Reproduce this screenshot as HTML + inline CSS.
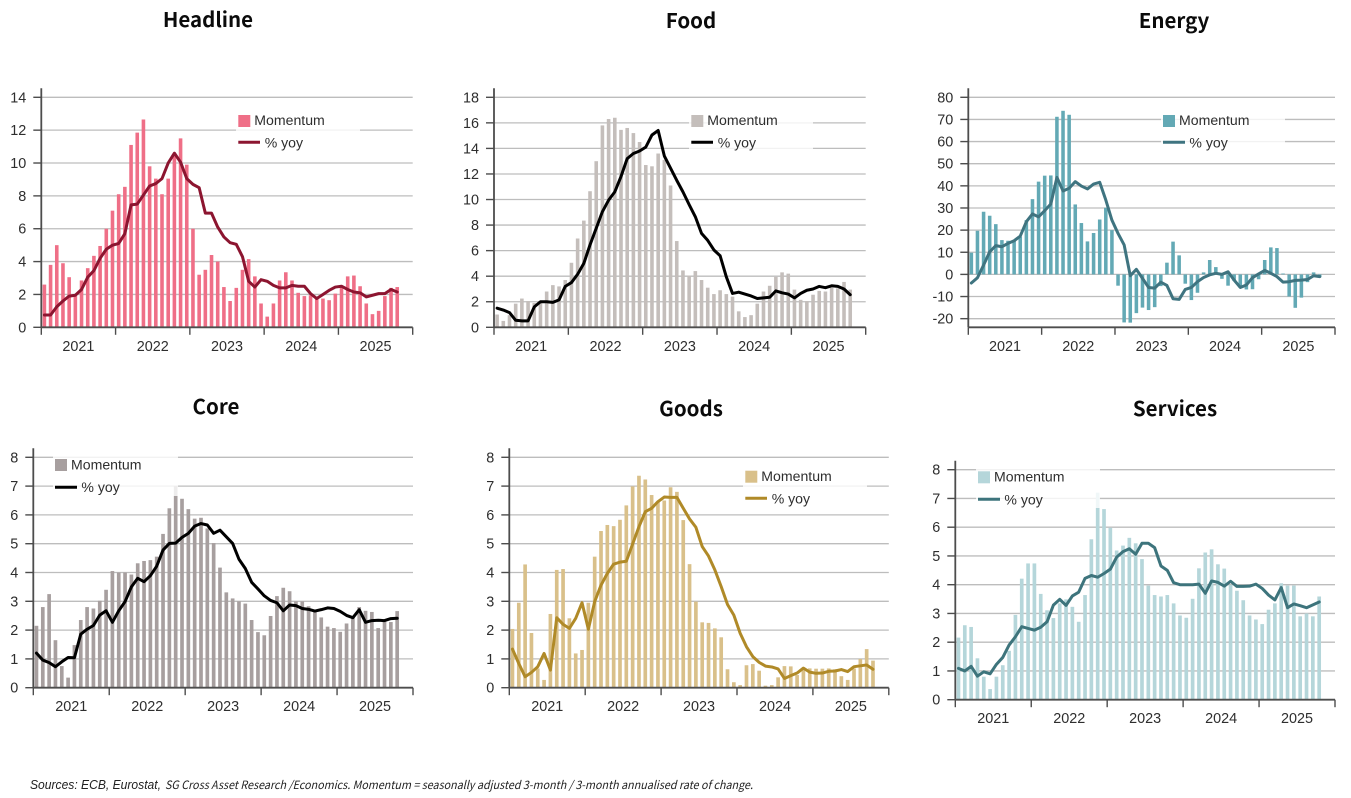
<!DOCTYPE html>
<html lang="en">
<head>
<meta charset="utf-8">
<title>Euro area inflation momentum</title>
<style>
html,body{margin:0;padding:0;background:#fff;}
body{width:1351px;height:798px;overflow:hidden;}
svg{display:block;}
text{font-family:"Liberation Sans",sans-serif;}
.title{font-family:"Noto Sans CJK JP","Liberation Sans",sans-serif;font-weight:700;font-size:20.5px;fill:#0b0b0b;text-anchor:middle;}
.legend-text{font-size:14.1px;fill:#2e2e2e;}
.tick{font-size:14.4px;fill:#2e2e2e;}
.note{font-style:italic;fill:#222;}
.plot{filter:blur(0.35px);}
</style>
</head>
<body>
<svg id="page" width="1351" height="798" viewBox="0 0 1351 798" xmlns="http://www.w3.org/2000/svg">
  <rect width="1351" height="798" fill="#fff"/>

  <g>
    <text class="title" x="208" y="27">Headline</text>
    <g id="plot-headline" class="plot"></g>
    <g>
      <rect x="236" y="112" width="124" height="38" fill="#fff" opacity=".8"/>
      <rect x="238.3" y="115" width="12" height="12" fill="#ef6f87"/>
      <text class="legend-text" x="254.3" y="125">Momentum</text>
      <line x1="238.3" x2="260" y1="142.3" y2="142.3" stroke="#8c1530" stroke-width="3"/>
      <text class="legend-text" x="264.7" y="147.5">% yoy</text>
    </g>
  </g>

  <g>
    <text class="title" x="691" y="28">Food</text>
    <g id="plot-food" class="plot"></g>
    <g>
      <rect x="689" y="112" width="124" height="38" fill="#fff" opacity=".8"/>
      <rect x="691.3" y="115" width="12" height="12" fill="#c4bebb"/>
      <text class="legend-text" x="707.3" y="125">Momentum</text>
      <line x1="691.3" x2="713" y1="142.3" y2="142.3" stroke="#000" stroke-width="3"/>
      <text class="legend-text" x="717.7" y="147.5">% yoy</text>
    </g>
  </g>

  <g>
    <text class="title" x="1174" y="28">Energy</text>
    <g id="plot-energy" class="plot"></g>
    <g>
      <rect x="1161" y="112" width="124" height="38" fill="#fff" opacity=".8"/>
      <rect x="1163" y="115" width="12" height="12" fill="#63a9b5"/>
      <text class="legend-text" x="1179" y="125">Momentum</text>
      <line x1="1163" x2="1185" y1="142.3" y2="142.3" stroke="#3f7480" stroke-width="3"/>
      <text class="legend-text" x="1189.4" y="147.5">% yoy</text>
    </g>
  </g>

  <g>
    <text class="title" x="216" y="414">Core</text>
    <g id="plot-core" class="plot"></g>
    <g>
      <rect x="53" y="456" width="125" height="40" fill="#fff" opacity=".8"/>
      <rect x="55" y="459" width="12" height="12" fill="#a79f9f"/>
      <text class="legend-text" x="71" y="469.3">Momentum</text>
      <line x1="55" x2="77" y1="487.3" y2="487.3" stroke="#000" stroke-width="3"/>
      <text class="legend-text" x="81.4" y="492">% yoy</text>
    </g>
  </g>

  <g>
    <text class="title" x="691" y="416">Goods</text>
    <g id="plot-goods" class="plot"></g>
    <g>
      <rect x="743" y="468" width="124" height="38" fill="#fff" opacity=".8"/>
      <rect x="745.3" y="470.7" width="12" height="12" fill="#d9c08a"/>
      <text class="legend-text" x="761.3" y="481">Momentum</text>
      <line x1="745.3" x2="767" y1="498.3" y2="498.3" stroke="#b08a28" stroke-width="3"/>
      <text class="legend-text" x="771.7" y="503.5">% yoy</text>
    </g>
  </g>

  <g>
    <text class="title" x="1175" y="416">Services</text>
    <g id="plot-services" class="plot"></g>
    <g>
      <rect x="976" y="468" width="124" height="40" fill="#fff" opacity=".8"/>
      <rect x="978" y="471.3" width="12" height="12" fill="#b5d6da"/>
      <text class="legend-text" x="994" y="481.5">Momentum</text>
      <line x1="978" x2="1000" y1="499.3" y2="499.3" stroke="#3d747c" stroke-width="3"/>
      <text class="legend-text" x="1004.4" y="504.5">% yoy</text>
    </g>
  </g>

  <g>
    <text class="note" x="30" y="789" font-size="13" textLength="131" lengthAdjust="spacingAndGlyphs">Sources: ECB, Eurostat,</text>
    <text class="note" x="165" y="789" font-size="11.5" textLength="588" lengthAdjust="spacingAndGlyphs" style="font-family:'Noto Sans CJK JP','Liberation Sans',sans-serif">SG Cross Asset Research /Economics. Momentum = seasonally adjusted 3-month / 3-month annualised rate of change.</text>
  </g>
</svg>

<script>
const categories = ['2021-01','2021-02','2021-03','2021-04','2021-05','2021-06','2021-07','2021-08','2021-09','2021-10','2021-11','2021-12','2022-01','2022-02','2022-03','2022-04','2022-05','2022-06','2022-07','2022-08','2022-09','2022-10','2022-11','2022-12','2023-01','2023-02','2023-03','2023-04','2023-05','2023-06','2023-07','2023-08','2023-09','2023-10','2023-11','2023-12','2024-01','2024-02','2024-03','2024-04','2024-05','2024-06','2024-07','2024-08','2024-09','2024-10','2024-11','2024-12','2025-01','2025-02','2025-03','2025-04','2025-05','2025-06','2025-07','2025-08','2025-09','2025-10'];
const yearLabels = ['2021','2022','2023','2024','2025'];

const headlineTicks = [0,2,4,6,8,10,12,14];
const headlineMomentum = [2.6,3.8,5.0,3.9,3.05,1.9,2.85,3.6,4.35,4.95,6.0,7.1,8.1,8.55,11.1,11.85,12.65,9.8,9.05,8.1,9.05,10.5,11.5,9.9,6.0,3.2,3.5,4.4,4.0,2.45,1.6,2.4,3.5,4.15,3.1,1.45,0.65,1.45,2.85,3.35,2.85,2.1,1.9,1.95,1.8,1.75,1.65,2.05,2.45,3.1,3.15,2.5,1.45,0.8,1.0,1.9,2.4,2.45];
const headlineYoy = [0.75,0.75,1.25,1.6,1.9,1.95,2.3,3.05,3.45,4.2,4.75,5.0,5.1,5.7,7.45,7.5,8.05,8.6,8.75,9.05,10.0,10.6,10.05,9.05,8.7,8.5,6.95,6.95,6.1,5.5,5.15,5.05,4.3,2.8,2.45,2.9,2.8,2.55,2.4,2.4,2.55,2.5,2.5,2.05,1.75,2.0,2.25,2.45,2.5,2.3,2.15,2.1,1.85,1.95,2.05,2.05,2.3,2.15];

const foodTicks = [0,2,4,6,8,10,12,14,16,18];
const foodMomentum = [1.0,0.5,0.95,1.85,2.25,2.05,1.9,2.0,2.8,3.3,3.2,3.7,5.05,6.95,8.35,10.65,13.0,15.8,16.3,16.4,15.45,15.6,15.2,14.5,12.7,12.6,13.6,13.1,11.1,6.75,4.45,4.05,4.4,3.7,3.1,2.6,2.9,2.6,2.4,1.25,0.8,0.95,1.85,2.8,3.25,3.95,4.3,4.2,2.95,2.15,2.05,2.55,2.85,2.8,3.1,3.05,3.55,2.95];
const foodYoy = [1.5,1.35,1.15,0.55,0.5,0.5,1.6,2.0,2.0,1.95,2.15,3.2,3.5,4.15,5.0,6.45,7.75,9.05,9.95,10.6,11.8,13.2,13.6,13.8,14.1,15.05,15.4,13.4,12.45,11.5,10.6,9.6,8.65,7.35,6.8,6.05,5.6,3.95,2.65,2.75,2.6,2.45,2.25,2.3,2.35,2.85,2.7,2.6,2.3,2.65,2.9,3.0,3.2,3.1,3.25,3.2,3.0,2.55];

const energyTicks = [-20,-10,0,10,20,30,40,50,60,70,80];
const energyMomentum = [9.8,19.7,28.3,26.5,22.7,15.5,15.2,15,17,24.5,34,41.9,44.6,44.7,71.2,73.9,72.1,31.6,23.2,14.9,18.7,24.8,30.1,20,-5.1,-21.7,-21.8,-17.5,-15,-16.1,-14.8,-5.3,5.3,14.8,8.6,-4.2,-11.6,-8.3,0.9,6.5,3.3,-2,-5.1,-3,-6,-6.8,-6.7,-2.2,6.5,12.2,11.9,0.4,-10,-15.1,-10.5,-3.5,0.9,-1.3];
const energyYoy = [-3.9,-1.5,4.2,10.2,13,12.5,14,15.2,17.3,23.8,27.3,26,28.8,31.8,43.8,37.7,38.9,41.9,39.9,38.6,40.8,41.6,33.6,24.5,18.5,13.3,-0.6,2.3,-1.8,-5.9,-6.2,-3.5,-5,-11,-11.3,-6.8,-5.9,-3.3,-1.4,-0.2,0.5,0,1.2,-2.6,-5.9,-4.8,-1.5,0.2,1.8,0.5,-1,-3.5,-3.3,-2.7,-2.6,-2.3,-0.6,-1];

const coreTicks = [0,1,2,3,4,5,6,7,8];
const coreMomentum = [2.15,2.8,3.25,1.65,0.75,0.35,1.48,2.35,2.8,2.75,3.02,3.4,4.05,4.0,4.0,3.93,4.32,4.4,4.43,4.55,5.34,6.23,7.0,6.56,6.2,5.87,5.9,5.53,5.02,4.17,3.31,3.1,3.0,2.92,2.35,1.93,1.82,2.49,3.18,3.47,3.35,3.0,3.0,2.83,2.67,2.44,2.12,2.07,1.94,2.23,2.47,2.8,2.67,2.63,2.07,2.3,2.28,2.66];
const coreYoy = [1.2,0.96,0.87,0.73,0.9,1.05,1.04,1.86,2.03,2.16,2.52,2.67,2.27,2.67,2.99,3.5,3.8,3.68,3.89,4.22,4.78,5.01,5.02,5.22,5.36,5.61,5.7,5.65,5.36,5.47,5.24,5.01,4.46,4.14,3.66,3.43,3.19,3.03,2.95,2.67,2.87,2.85,2.75,2.72,2.66,2.71,2.77,2.75,2.65,2.51,2.43,2.71,2.27,2.33,2.34,2.33,2.4,2.41];

const goodsTicks = [0,1,2,3,4,5,6,7,8];
const goodsMomentum = [2.04,2.95,4.28,1.9,0.67,0.27,2.56,4.09,4.12,2.41,1.19,1.31,2.95,4.55,5.44,5.65,5.61,5.83,6.33,6.99,7.36,7.23,6.69,6.45,6.5,6.96,6.8,5.82,4.29,2.99,2.27,2.25,2.06,1.75,0.64,0.19,0.09,0.78,0.82,0.59,0.07,0.09,0.36,0.75,0.74,0.44,0.67,0.67,0.66,0.66,0.67,0.64,0.4,0.27,0.67,1.0,1.34,0.94];
const goodsYoy = [1.34,0.84,0.38,0.53,0.73,1.19,0.61,2.43,2.2,2.06,2.41,2.95,2.03,2.99,3.56,3.97,4.29,4.36,4.39,4.99,5.59,6.11,6.23,6.46,6.62,6.61,6.61,6.23,5.86,5.57,4.9,4.57,4.09,3.51,2.89,2.52,1.89,1.42,1.08,0.88,0.75,0.72,0.65,0.32,0.42,0.51,0.68,0.54,0.5,0.51,0.57,0.58,0.63,0.56,0.73,0.76,0.79,0.64];

const servicesTicks = [0,1,2,3,4,5,6,7,8];
const servicesMomentum = [2.16,2.59,2.53,1.44,0.8,0.37,0.8,1.2,1.7,2.95,4.21,4.74,4.74,3.68,3.11,2.84,3.35,3.49,3.23,2.71,3.64,5.58,7.2,6.63,5.98,5.19,5.36,5.63,5.44,4.89,3.97,3.64,3.59,3.64,3.35,2.93,2.85,3.51,4.57,5.12,5.23,4.71,4.56,3.99,3.79,3.46,2.93,2.79,2.63,3.13,3.35,4.05,3.97,3.97,2.9,3.0,2.9,3.59];
const servicesYoy = [1.09,1.0,1.16,0.82,0.97,0.9,1.23,1.47,1.9,2.19,2.54,2.48,2.42,2.52,2.71,3.29,3.49,3.28,3.61,3.74,4.22,4.32,4.26,4.39,4.54,4.96,5.15,5.25,5.06,5.44,5.44,5.29,4.65,4.5,4.07,4.0,4.0,4.0,4.02,3.7,4.13,4.08,3.95,4.12,3.94,3.94,3.95,4.02,3.87,3.64,3.47,3.9,3.2,3.33,3.27,3.2,3.3,3.4];

const SVG_NS = 'http://www.w3.org/2000/svg';
const monthsPerYear = 12;

function make(parent, tag, attrs) {
  const el = document.createElementNS(SVG_NS, tag);
  for (const k in attrs) el.setAttribute(k, attrs[k]);
  parent.appendChild(el);
  return el;
}

function drawChart(id, momentum, yoy, ticks, opts) {
  const g = document.getElementById(id);
  const slots = yearLabels.length * monthsPerYear;
  const step = opts.width / slots;
  const lo = opts.min !== undefined ? opts.min : ticks[0];
  const hi = ticks[ticks.length - 1];
  const unit = (opts.bottom - opts.top) / (hi - lo);
  const x = function (i) { return opts.left + (i + 0.5) * step; };
  const y = function (v) { return opts.bottom - (v - lo) * unit; };
  const right = opts.left + opts.width;
  const axisColor = '#4d4d4d';

  // gridlines and value labels
  ticks.forEach(function (t) {
    const py = y(t);
    if (t !== lo) {
      const grid = make(g, 'line', {x1: opts.left, x2: right, y1: py, y2: py, stroke: '#bdbdbd', 'stroke-width': 1.3});
      
      
    }
    const mark = make(g, 'line', {x1: opts.left - 8, x2: opts.left, y1: py, y2: py, stroke: axisColor, 'stroke-width': 1.4});
    
    
    const label = make(g, 'text', {x: opts.left - 15, y: py + 5, 'text-anchor': 'end', 'class': 'tick'});
    label.textContent = String(t);
    
    
  });

  // momentum bars
  const barWidth = step * 0.58;
  momentum.forEach(function (v, i) {
    const y0 = y(Math.max(lo, 0));
    const yv = y(v);
    const bar = make(g, 'rect', {x: x(i) - barWidth / 2, y: Math.min(y0, yv), width: barWidth, height: Math.abs(y0 - yv), fill: opts.barColor});
    
    
  });

  // axes
  const yAxis = make(g, 'line', {x1: opts.left, x2: opts.left, y1: y(hi) - 9, y2: opts.bottom, stroke: axisColor, 'stroke-width': 1.8});
  
  
  const xAxis = make(g, 'line', {x1: opts.left, x2: right, y1: opts.bottom, y2: opts.bottom, stroke: axisColor, 'stroke-width': 1.8});
  
  

  for (let k = 0; k <= yearLabels.length; k++) {
    const px = opts.left + k * monthsPerYear * step;
    const xMark = make(g, 'line', {x1: px, x2: px, y1: opts.bottom, y2: opts.bottom + 7.5, stroke: axisColor, 'stroke-width': 1.4});
    
    
  }
  yearLabels.forEach(function (label, k) {
    const px = opts.left + (k + 0.5) * monthsPerYear * step;
    const txt = make(g, 'text', {x: px, y: opts.bottom + 23.5, 'text-anchor': 'middle', 'class': 'tick'});
    txt.textContent = label;
    
    
  });

  // % yoy line
  const pts = yoy.map(function (v, i) { return x(i).toFixed(2) + ',' + y(v).toFixed(2); }).join(' ');
  const path = make(g, 'polyline', {points: pts, fill: 'none', stroke: opts.lineColor, 'stroke-width': 3, 'stroke-linejoin': 'round', 'stroke-linecap': 'round'});
  
  
}

drawChart('plot-headline', headlineMomentum, headlineYoy, headlineTicks, {left: 41.3, width: 371.4, top: 97.3, bottom: 327.3, barColor: '#ef6f87', lineColor: '#8c1530'});
drawChart('plot-food', foodMomentum, foodYoy, foodTicks, {left: 494, width: 371.7, top: 97.3, bottom: 327.3, barColor: '#c4bebb', lineColor: '#000'});
drawChart('plot-energy', energyMomentum, energyYoy, energyTicks, {left: 968.3, width: 366.7, top: 97.3, bottom: 327.3, min: -23.9, barColor: '#63a9b5', lineColor: '#3f7480'});
drawChart('plot-core', coreMomentum, coreYoy, coreTicks, {left: 33.3, width: 379.7, top: 457.3, bottom: 687.7, barColor: '#a79f9f', lineColor: '#000'});
drawChart('plot-goods', goodsMomentum, goodsYoy, goodsTicks, {left: 509.3, width: 379.5, top: 457.3, bottom: 687.7, barColor: '#d9c08a', lineColor: '#b08a28'});
drawChart('plot-services', servicesMomentum, servicesYoy, servicesTicks, {left: 955.3, width: 379.7, top: 469.7, bottom: 699.7, barColor: '#b5d6da', lineColor: '#3d747c'});
</script>
</body>
</html>
